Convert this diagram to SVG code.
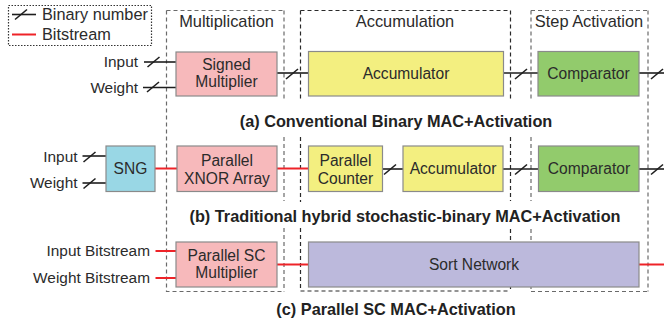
<svg xmlns="http://www.w3.org/2000/svg" xmlns:xlink="http://www.w3.org/1999/xlink" width="664" height="322" viewBox="0 0 664 322">
<style>
text{font-family:"Liberation Sans",Arial,sans-serif;fill:#2b2b2b}
.hdr{font-size:16.4px;text-anchor:middle}
.node{font-size:15.6px;text-anchor:middle}
.lbl{font-size:15.4px;text-anchor:end}
.ttl{font-size:16.3px;font-weight:bold;text-anchor:middle;fill:#222}
.leg{font-size:16.3px}
.box{stroke:#8a8a8a;stroke-width:1.2}
.pink{fill:#f7b9bb}.yel{fill:#f3ef80}.grn{fill:#92cb6c}.blu{fill:#99d7e5}.pur{fill:#bcb9dc}
.bin{stroke:#1e1e1e;stroke-width:1.6;fill:none}
.bit{stroke:#ee2328;stroke-width:2;fill:none}
.dg{stroke:#6a6a6a;stroke-width:1.2;stroke-dasharray:4 3;fill:none}
.dk{stroke:#2a2a2a;stroke-width:1.2;stroke-dasharray:4 3;fill:none}
</style>
<defs>
<path id="slash" d="M-6,5 L6,-5" stroke="#1e1e1e" stroke-width="1.6"/>
</defs>
<g id="legend">
<rect x="8.5" y="5.5" width="143" height="40" fill="none" stroke="#333" stroke-width="1.2" stroke-dasharray="1.5 1.5"/>
<line x1="12" y1="14.5" x2="36" y2="14.5" class="bin"/>
<use xlink:href="#slash" x="21" y="14.5"/>
<text class="leg" x="42" y="20">Binary number</text>
<line x1="12" y1="34.5" x2="36" y2="34.5" class="bit"/>
<text class="leg" x="42" y="40">Bitstream</text>
</g>
<g id="stage-boxes">
<path class="dg" d="M166.5,10.5 H284 M166.5,10.5 V291.5 H284 M284,10.5 V99 M284,137 V201 M284,228 V291.5"/>
<text class="hdr" x="226.5" y="27">Multiplication</text>
<path class="dk" d="M300.5,10.5 H510.5 M300.5,291 H510.5 M300.5,10.5 V99 M300.5,137 V202 M300.5,228 V291 M510.5,10.5 V99 M510.5,137 V201 M510.5,229 V291"/>
<text class="hdr" x="405" y="27">Accumulation</text>
<path class="dg" d="M531,10.5 H648 M531,291.5 H648 M648,10.5 V291.5 M531,10.5 V99 M531,137 V201 M531,229 V291.5"/>
<text class="hdr" x="589" y="27">Step Activation</text>
</g>
<g id="connectors">
<line x1="144" y1="62" x2="176" y2="62" class="bin"/><use xlink:href="#slash" x="153.5" y="62"/>
<line x1="143" y1="87.5" x2="176" y2="87.5" class="bin"/><use xlink:href="#slash" x="153" y="87"/>
<line x1="277" y1="73" x2="308" y2="73" class="bin"/><use xlink:href="#slash" x="292" y="74"/>
<line x1="503" y1="73" x2="538" y2="73" class="bin"/><use xlink:href="#slash" x="521" y="74"/>
<line x1="639" y1="73" x2="664" y2="73" class="bin"/><use xlink:href="#slash" x="657" y="74"/>
<line x1="82.5" y1="156" x2="106" y2="156" class="bin"/><use xlink:href="#slash" x="89.5" y="157"/>
<line x1="82.5" y1="183" x2="106" y2="183" class="bin"/><use xlink:href="#slash" x="89.5" y="183.5"/>
<line x1="155" y1="168.5" x2="177" y2="168.5" class="bit"/>
<line x1="277" y1="168.5" x2="308" y2="168.5" class="bit"/>
<line x1="382.5" y1="169" x2="403" y2="169" class="bin"/><use xlink:href="#slash" x="390" y="169.5"/>
<line x1="503" y1="169" x2="538" y2="169" class="bin"/><use xlink:href="#slash" x="521" y="169.5"/>
<line x1="639" y1="169" x2="664" y2="169" class="bin"/><use xlink:href="#slash" x="657" y="169.5"/>
<line x1="155.5" y1="251" x2="176" y2="251" class="bit"/>
<line x1="155.5" y1="278" x2="176" y2="278" class="bit"/>
<line x1="277" y1="264.5" x2="308" y2="264.5" class="bit"/>
<line x1="639" y1="264.5" x2="664" y2="264.5" class="bit"/>
</g>
<g id="labels">
<text class="lbl" x="138" y="67">Input</text>
<text class="lbl" x="138" y="92.5">Weight</text>
<text class="lbl" x="77.5" y="161.5">Input</text>
<text class="lbl" x="77.5" y="188">Weight</text>
<text class="lbl" x="150" y="256">Input Bitstream</text>
<text class="lbl" x="150" y="283">Weight Bitstream</text>
</g>
<g id="signed-multiplier">
<rect class="box pink" x="176" y="52" width="101" height="44"/>
<text class="node" x="226.5" y="69.5">Signed</text>
<text class="node" x="226.5" y="87">Multiplier</text>
</g>
<g id="accumulator-a">
<rect class="box yel" x="308.5" y="51.5" width="195" height="44.5"/>
<text class="node" x="406" y="79">Accumulator</text>
</g>
<g id="comparator-a">
<rect class="box grn" x="538" y="51.5" width="101" height="44.5"/>
<text class="node" x="588.5" y="79">Comparator</text>
</g>
<text class="ttl" x="396" y="127">(a) Conventional Binary MAC+Activation</text>
<g id="sng">
<rect class="box blu" x="106" y="146" width="49" height="45.5"/>
<text class="node" x="130.5" y="174">SNG</text>
</g>
<g id="xnor-array">
<rect class="box pink" x="177" y="146" width="100" height="45.5"/>
<text class="node" x="227" y="165.5">Parallel</text>
<text class="node" x="227" y="183.5">XNOR Array</text>
</g>
<g id="parallel-counter">
<rect class="box yel" x="308.5" y="146" width="74" height="45.5"/>
<text class="node" x="345.5" y="165.5">Parallel</text>
<text class="node" x="345.5" y="183.5">Counter</text>
</g>
<g id="accumulator-b">
<rect class="box yel" x="403" y="146" width="100" height="45.5"/>
<text class="node" x="453" y="174">Accumulator</text>
</g>
<g id="comparator-b">
<rect class="box grn" x="538.5" y="146" width="100.5" height="45.5"/>
<text class="node" x="589" y="174">Comparator</text>
</g>
<text class="ttl" x="405" y="222">(b) Traditional hybrid stochastic-binary MAC+Activation</text>
<g id="sc-multiplier">
<rect class="box pink" x="176" y="242" width="101" height="45"/>
<text class="node" x="226.5" y="260.5">Parallel SC</text>
<text class="node" x="226.5" y="277.5">Multiplier</text>
</g>
<g id="sort-network">
<rect class="box pur" x="308.5" y="242" width="330.5" height="45"/>
<text class="node" x="474" y="269.5">Sort Network</text>
</g>
<text class="ttl" x="396" y="315">(c) Parallel SC MAC+Activation</text>
</svg>
